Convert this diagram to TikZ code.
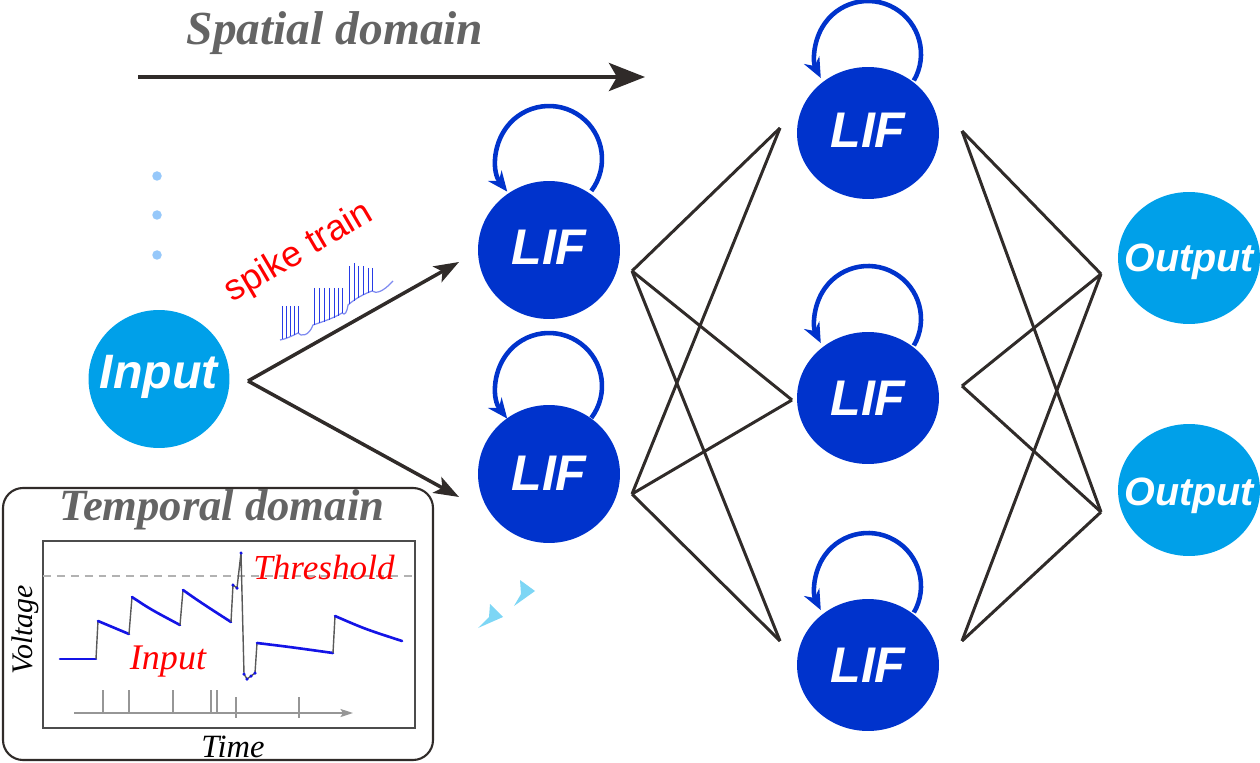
\documentclass[tikz,border=0pt]{standalone}
\usepackage{fontspec}
\setmainfont{Liberation Serif}
\newfontfamily\arialf{Liberation Sans}
\usetikzlibrary{arrows.meta,shapes.geometric}
\definecolor{lblue}{RGB}{0,160,233}
\definecolor{dblue}{RGB}{0,51,204}
\definecolor{conncol}{RGB}{48,43,41}
\definecolor{ttlcol}{RGB}{100,100,100}
\definecolor{dotcol}{RGB}{150,200,250}
\definecolor{ahcol}{RGB}{125,214,245}
\definecolor{tracecol}{RGB}{20,20,230}
\definecolor{spikecol}{RGB}{40,60,230}
\definecolor{axiscol}{RGB}{150,150,150}
\begin{document}
\begin{tikzpicture}[x=0.02cm,y=-0.02cm,
  bubble/.style={ellipse, inner sep=0, draw=none},
  lifA/.style={bubble, fill=dblue, minimum width=2.84cm, minimum height=2.76cm},
  lifB/.style={bubble, fill=dblue, minimum width=2.84cm, minimum height=2.64cm},
  inbub/.style={bubble, fill=lblue, minimum width=2.82cm, minimum height=2.76cm},
  outbub/.style={bubble, fill=lblue, minimum width=2.84cm, minimum height=2.64cm},
  nodetext/.style={text=white, inner sep=0, anchor=base, font=\arialf\bfseries\itshape\fontsize{#1}{#1}\selectfont},
  link/.style={draw=conncol, line width=1.7pt, line join=miter},
  feed/.style={draw=conncol, line width=2pt, -{Stealth[length=0.5cm,width=0.36cm,inset=0.12cm]}},
  selfloop/.style={draw=dblue, line width=2.6pt, -{Stealth[length=0.4cm,width=0.34cm,inset=0.13cm]}},
  domaintitle/.style={text=ttlcol, inner sep=0, font=\bfseries\itshape\fontsize{#1}{#1}\selectfont},
  redlabel/.style={text=red, inner sep=0, font=\itshape\fontsize{#1}{#1}\selectfont},
  axislabel/.style={text=black, inner sep=0, font=\itshape\fontsize{#1}{#1}\selectfont},
  trace/.style={draw=tracecol, line width=1.5pt, line cap=round},
  jump/.style={draw=black!65, line width=0.8pt},
  tick/.style={draw=axiscol, line width=0.8pt},
  spikeline/.style={draw=spikecol, line width=0.55pt}
]
\useasboundingbox (0,0) rectangle (1260,763);

% ---------- spatial domain ----------
\node[domaintitle=27] (sd) at (335,33) {Spatial domain};
\coordinate (sdA) at (138,77);
\coordinate (sdB) at (645,77);
\draw[draw=conncol, line width=2.4pt, -{Stealth[length=0.72cm,width=0.56cm,inset=0.16cm]}] (sdA) -- (sdB);

% ---------- nodes ----------
\node[inbub] (in) at (159,379) {};
\node[nodetext=27.5] (tin) at (159,388) {Input};

\node[lifA] (l1) at (549,250) {};
\node[nodetext=28.5] (tl1) at (549,265) {LIF};
\node[lifA] (l2) at (549,474) {};
\node[nodetext=28.5] (tl2) at (549,490) {LIF};

\node[lifB] (m1) at (868,133) {};
\node[nodetext=28.5] (tm1) at (868,148) {LIF};
\node[lifB] (m2) at (868,398) {};
\node[nodetext=28.5] (tm2) at (868,415) {LIF};
\node[lifB] (m3) at (868,665) {};
\node[nodetext=28.5] (tm3) at (868,682) {LIF};

\node[outbub] (o1) at (1189,258) {};
\node[nodetext=22.5] (to1) at (1189,272) {Output};
\node[outbub] (o2) at (1189,490) {};
\node[nodetext=22.5] (to2) at (1189,505) {Output};

% ---------- dots above input ----------
\fill[dotcol] (157,176) circle[radius=0.095cm];
\fill[dotcol] (157,215) circle[radius=0.095cm];
\fill[dotcol] (157,255) circle[radius=0.095cm];

% ---------- self loops ----------
\draw[selfloop] (l1.center) ++(0,-91) ++(-37:1.06cm) arc[start angle=-37,end angle=218,radius=1.06cm];
\draw[selfloop] (l2.center) ++(0,-88) ++(-37:1.06cm) arc[start angle=-37,end angle=218,radius=1.06cm];
\draw[selfloop] (m1.center) ++(0,-79) ++(-30:1.06cm) arc[start angle=-30,end angle=207,radius=1.06cm];
\draw[selfloop] (m2.center) ++(0,-79) ++(-30:1.06cm) arc[start angle=-30,end angle=207,radius=1.06cm];
\draw[selfloop] (m3.center) ++(0,-79) ++(-30:1.06cm) arc[start angle=-30,end angle=207,radius=1.06cm];

% ---------- input connections ----------
\coordinate (inA) at (248,381);
\coordinate (l1in) at (459,262);
\coordinate (l2in) at (459,497);
\draw[feed] (inA) -- (l1in);
\draw[feed] (inA) -- (l2in);

% ---------- hidden layer connections ----------
\coordinate (l1o) at (632,271);
\coordinate (l2o) at (632,494);
\coordinate (m1i) at (780,128);
\coordinate (m2i) at (792,400);
\coordinate (m3i) at (780,641);
\coordinate (m1o) at (962,131);
\coordinate (m2o) at (962,386);
\coordinate (m3o) at (962,641);
\coordinate (o1i) at (1101,274);
\coordinate (o2i) at (1101,512);
\foreach \a in {l1o,l2o}{
  \foreach \b in {m1i,m2i,m3i}{
    \draw[link] (\a) -- (\b);
  }
}
\foreach \a in {m1o,m2o,m3o}{
  \foreach \b in {o1i,o2i}{
    \draw[link] (\a) -- (\b);
  }
}

% ---------- faint arrowheads ----------
\fill[ahcol] (535,591) -- (520,580) -- (521,594) -- (514,606) -- cycle;
\fill[ahcol] (503,617) -- (490,604) -- (489,617) -- (478,628) -- cycle;

% ---------- spike train ----------
\node[text=red, inner sep=0, rotate=30.5, font=\arialf\fontsize{20.6}{20.6}\selectfont] (st) at (299,253) {spike train};
\draw[spikecol!60, line width=0.7pt] (280,340) .. controls (286,339) and (292,336) .. (298,333)
   .. controls (301,337) and (309,336) .. (313,325)
   .. controls (322,322) and (334,318) .. (342,313)
   .. controls (345,316) and (347,312) .. (348,305)
   .. controls (356,298) and (364,294) .. (372,291)
   .. controls (376,294) and (383,292) .. (393,281);
\foreach \x/\t/\b in {282/306/339,286/306/338,290/306/336,294/306/335,298/306/333,
                      314/288/325,319/288/323,324/288/322,329/288/320,334/288/318,338/288/316,342/288/313,
                      349/266/304,354/263/301,358/266/298,363/266/295,368/268/293,372/268/291}{
  \draw[spikeline] (\x,\t) -- (\x,\b);
}

% ---------- temporal domain box ----------
\draw[draw=conncol, line width=1.2pt, rounded corners=0.4cm] (3,488) rectangle (433,760);
\node[domaintitle=25.4] (td) at (222,510) {Temporal domain};
\draw[draw=black!70, line width=0.6pt] (43,541) rectangle (415,728);
\draw[draw=black!30, line width=0.8pt, dash pattern=on 4.5pt off 3.4pt] (43,576) -- (415,576);
\node[redlabel=20] (thr) at (324,567) {Threshold};
\node[redlabel=20.5] (inl) at (168,662) {Input};
\node[axislabel=17, rotate=90] (volt) at (25,630) {Voltage};
\node[axislabel=18.5] (time) at (233,747) {Time};

% time axis with spikes
\draw[draw=axiscol, line width=0.9pt, -{Stealth[length=0.25cm,width=0.16cm,inset=0.05cm]}] (74,713) -- (353,713);
\foreach \x in {103,129,173,211,217}{
  \draw[tick] (\x,690) -- (\x,712);
}
\foreach \x in {236,299}{
  \draw[tick] (\x,697) -- (\x,718);
}

% voltage trace
\draw[trace] (60,659) -- (96,659);
\draw[jump] (96,659) -- (98,621);
\draw[trace] (98,621) -- (129,634);
\draw[jump] (129,634) -- (132,597);
\draw[trace] (132,597) .. controls (150,609) .. (180,625);
\draw[jump] (180,625) -- (183,590);
\draw[trace] (183,590) .. controls (200,602) .. (231,622);
\draw[jump] (231,622) -- (233,585) -- (237,588) -- (241,553) -- (244,674) -- (247,679) -- (255,673) -- (257,643);
\foreach \p in {(233,585),(237,588),(241,553),(244,674),(247,679),(251,676),(255,673)}{
  \fill[tracecol] \p circle[radius=0.035cm];
}
\draw[trace] (257,643) .. controls (290,647) .. (333,653);
\draw[jump] (333,653) -- (335,616);
\draw[trace] (335,616) .. controls (365,629) .. (402,641);
\end{tikzpicture}
\end{document}
